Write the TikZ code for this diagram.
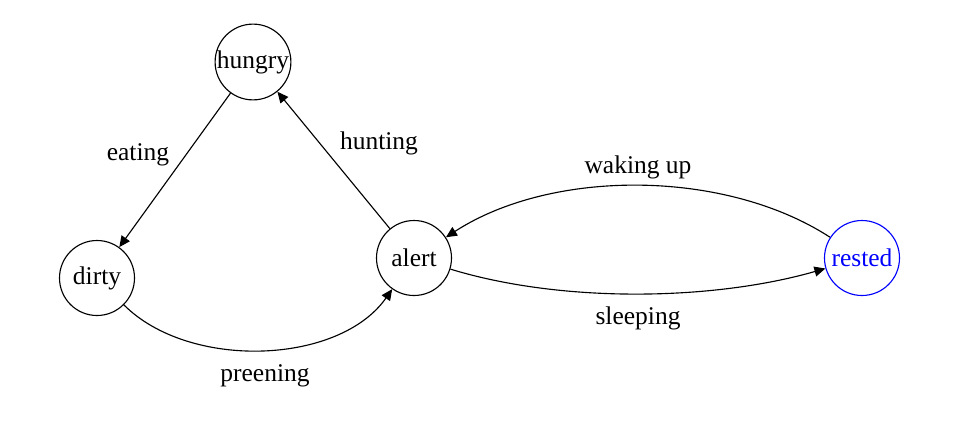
\documentclass[tikz,border=0pt]{standalone}
\usepackage{fontspec}
\setmainfont{Liberation Serif}
\usetikzlibrary{arrows.meta}
\begin{document}
\begin{tikzpicture}[x=0.4pt,y=0.4pt,
  every node/.style={font=\fontsize{10.2}{12}\selectfont},
  state/.style={circle,draw,line width=0.45pt,minimum size=30pt,inner sep=0pt},
  lbl/.style={inner sep=1pt},
  edge/.style={line width=0.45pt,-{Triangle[length=4.4pt,width=4pt]}}]
\useasboundingbox (0,0) rectangle (954,-434);
\node[state] (hungry) at (253,-62) {hungry};
\node[state] (dirty) at (97,-278) {dirty};
\node[state] (alert) at (414,-258) {alert};
\node[state,draw=blue,text=blue] (rested) at (862,-258) {rested};
\node[lbl] (leating) at (138,-155) {eating};
\node[lbl] (lhunting) at (379,-143) {hunting};
\node[lbl] (lpreening) at (265,-376) {preening};
\node[lbl] (lwaking) at (638,-167) {waking up};
\node[lbl] (lsleeping) at (638,-318) {sleeping};
\draw[edge] (hungry) -- (dirty);
\draw[edge] (alert) -- (hungry);
\draw[edge] (dirty) to[out=-45,in=-125,looseness=0.88] (alert);
\draw[edge] (alert) to[out=-17,in=196,looseness=0.8] (rested);
\draw[edge] (rested) to[out=147,in=33,looseness=0.84] (alert);
\end{tikzpicture}
\end{document}
